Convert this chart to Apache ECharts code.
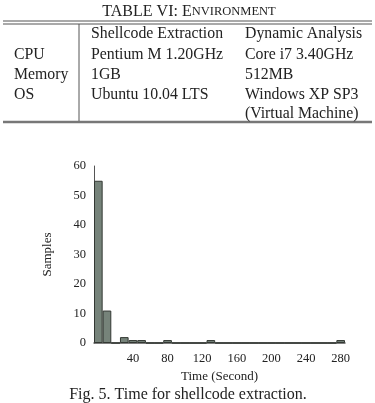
<!DOCTYPE html>
<html>
<head>
<meta charset="utf-8">
<script src="https://cdn.jsdelivr.net/npm/echarts@6/dist/echarts.min.js"></script>
<style>
  html, body { margin: 0; padding: 0; background: #fff; }
  #main { width: 375px; height: 403px; }
</style>
</head>
<body>
<div id="main"></div>
<script>
// table contents
var tableHeader = ["", "Shellcode Extraction", "Dynamic Analysis"];
var tableRows = [
  ["CPU", "Pentium M 1.20GHz", "Core i7 3.40GHz"],
  ["Memory", "1GB", "512MB"],
  ["OS", "Ubuntu 10.04 LTS", "Windows XP SP3"],
  ["", "", "(Virtual Machine)"]
];

// histogram bins (10 s each), labelled by start time
var bins = [];
for (var b = 0; b <= 28; b++) bins.push(String(b * 10));
var samples = [55, 11, 0, 2, 1, 1, 0, 0, 1, 0, 0, 0, 0, 1, 0, 0, 0, 0, 0, 0, 0, 0, 0, 0, 0, 0, 0, 0, 1];
var yTicks = [0, 10, 20, 30, 40, 50, 60];

var font = "'Liberation Serif', 'Times New Roman', serif";
var ink = "#222";

var chart = echarts.init(document.getElementById("main"));

var colX = [14, 91, 245];
var rowY = [34, 54.5, 74.5, 94.5, 113.5];
var graphics = [];
// title
graphics.push({
  type: "text",
  x: 189,
  y: 12,
  style: {
    text: "{a|TABLE VI: E}{b|NVIRONMENT}",
    textAlign: "center",
    textVerticalAlign: "middle",
    rich: {
      a: { fontFamily: font, fontSize: 16, fill: ink },
      b: { fontFamily: font, fontSize: 12.5, fill: ink }
    }
  }
});
// rules
graphics.push({ type: "line", shape: { x1: 3, y1: 21, x2: 372, y2: 21 }, style: { stroke: "#555", lineWidth: 1.2 } });
graphics.push({ type: "line", shape: { x1: 3, y1: 24, x2: 372, y2: 24 }, style: { stroke: "#555", lineWidth: 1.2 } });
graphics.push({ type: "line", shape: { x1: 3, y1: 122, x2: 372, y2: 122 }, style: { stroke: "#777", lineWidth: 2.5 } });
graphics.push({ type: "line", shape: { x1: 79, y1: 24, x2: 79, y2: 121 }, style: { stroke: "#555", lineWidth: 1 } });
// cells
var allRows = [tableHeader].concat(tableRows);
allRows.forEach(function (row, r) {
  row.forEach(function (cell, c) {
    if (!cell) return;
    graphics.push({
      type: "text",
      x: colX[c],
      y: rowY[r],
      style: { text: cell, fontFamily: font, fontSize: 15.8, fill: ink, textVerticalAlign: "middle" }
    });
  });
});
// caption
graphics.push({
  type: "text",
  x: 188,
  y: 395,
  style: {
    text: "Fig. 5. Time for shellcode extraction.",
    fontFamily: font,
    fontSize: 16,
    fill: ink,
    textAlign: "center",
    textVerticalAlign: "middle"
  }
});

var option = {
  animation: false,
  backgroundColor: "#fff",
  grid: { left: 94, right: 30, top: 166, bottom: 60 },
  xAxis: {
    type: "category",
    data: bins,
    boundaryGap: true,
    name: "Time (Second)",
    nameLocation: "middle",
    nameGap: 27,
    nameTextStyle: { fontFamily: font, fontSize: 13, color: ink },
    axisLine: { lineStyle: { color: "#555", width: 1.5 } },
    axisTick: { show: false },
    axisLabel: {
      fontFamily: font,
      fontSize: 12.5,
      color: ink,
      margin: 9,
      interval: function (index) {
        return index > 0 && index % 4 === 0;
      }
    }
  },
  yAxis: {
    type: "value",
    min: yTicks[0],
    max: yTicks[yTicks.length - 1],
    interval: 10,
    name: "Samples",
    nameLocation: "middle",
    nameGap: 40,
    nameRotate: 90,
    nameTextStyle: { fontFamily: font, fontSize: 13, color: ink },
    axisLine: { show: true, lineStyle: { color: "#555", width: 1 } },
    axisTick: { show: false },
    splitLine: { show: false },
    axisLabel: { fontFamily: font, fontSize: 12.5, color: ink, margin: 8 }
  },
  series: [
    {
      type: "bar",
      data: samples,
      barCategoryGap: "0%",
      itemStyle: { color: "#76837a", borderColor: "#333833", borderWidth: 1 }
    }
  ],
  graphic: graphics
};
chart.setOption(option);
</script>
</body>
</html>
